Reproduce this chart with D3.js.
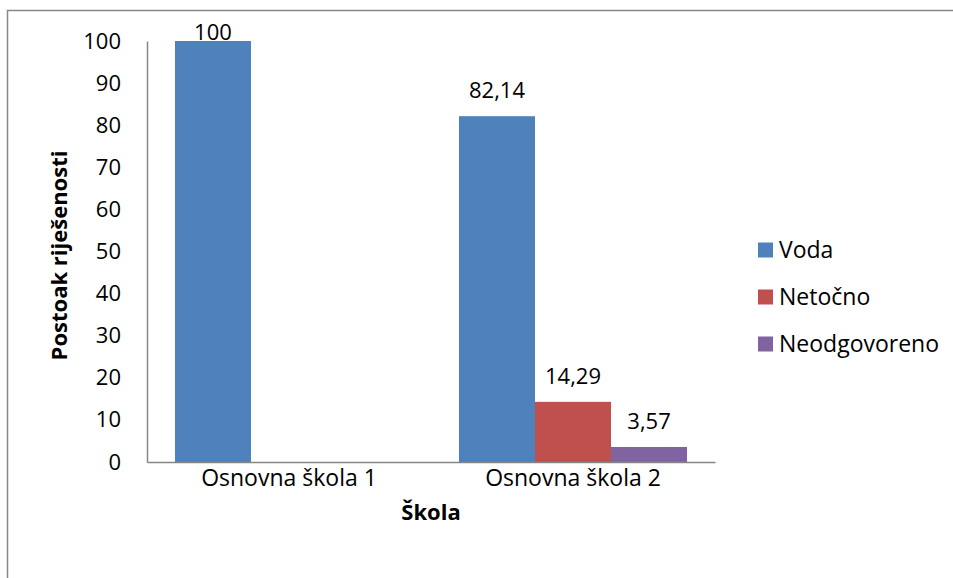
<!DOCTYPE html>
<html>
<head>
<meta charset="utf-8">
<script src="https://cdn.jsdelivr.net/npm/d3@7"></script>
<style>
  html, body { margin: 0; padding: 0; background: #fff; }
  svg { display: block; }
  text { font-family: "Open Sans", "Liberation Sans", sans-serif; fill: #000; }
</style>
</head>
<body>
<svg id="chart" width="953" height="578"></svg>
<script>
const categories = ["Osnovna škola 1", "Osnovna škola 2"];
const seriesNames = ["Voda", "Netočno", "Neodgovoreno"];
const seriesColors = ["#4F81BD", "#C0504D", "#8064A2"];
const vodaValues = [100, 82.14];
const netocnoValues = [null, 14.29];
const neodgovorenoValues = [null, 3.57];
const valueLabels = [["100", "82,14"], ["", "14,29"], ["", "3,57"]];
const yTicks = [0, 10, 20, 30, 40, 50, 60, 70, 80, 90, 100];
const yTitle = "Postoak riješenosti";
const xTitle = "Škola";

const seriesValues = [vodaValues, netocnoValues, neodgovorenoValues];

const svg = d3.select("#chart");

// outer frame
svg.append("rect").attr("x", 7.5).attr("y", 10.5).attr("width", 960).attr("height", 600)
  .attr("fill", "none").attr("stroke", "#888").attr("stroke-width", 1.5);

const plot = { left: 147, right: 715, top: 41, bottom: 462 };

const y = d3.scaleLinear().domain([0, 100]).range([plot.bottom, plot.top]);
const x0 = d3.scaleBand().domain(categories).range([plot.left, plot.right]).paddingInner(0).paddingOuter(0);
const groupW = x0.bandwidth() * 0.803;
const x1 = d3.scaleBand().domain(seriesNames).range([0, groupW]).padding(0);

const font = 22;

// y-axis
const yAxis = d3.axisLeft(y).tickValues(yTicks).tickSize(0).tickPadding(26).tickFormat(d3.format("d"));
const gy = svg.append("g").attr("transform", `translate(${plot.left},0)`).call(yAxis);
gy.select(".domain").attr("stroke", "#868686").attr("stroke-width", 1.5);
gy.selectAll("text").style("font-size", font + "px").attr("fill", "#000")
  .style("font-family", '"Open Sans", sans-serif');

// bars
categories.forEach((cat, ci) => {
  const gx = x0(cat) + (x0.bandwidth() - groupW) / 2;
  seriesNames.forEach((s, si) => {
    const v = seriesValues[si][ci];
    if (v == null) return;
    svg.append("rect")
      .attr("x", gx + x1(s))
      .attr("y", y(v))
      .attr("width", x1.bandwidth())
      .attr("height", y(0) - y(v))
      .attr("fill", seriesColors[si]);
    const lbl = valueLabels[si][ci];
    if (lbl) {
      const by = Math.max(y(v) - 18, plot.top - 1);
      svg.append("text")
        .attr("x", gx + x1(s) + x1.bandwidth() / 2)
        .attr("y", by)
        .attr("text-anchor", "middle")
        .style("font-size", font + "px")
        .text(lbl);
    }
  });
});

// x-axis
const xAxis = d3.axisBottom(x0).tickSize(0).tickPadding(8);
const gx = svg.append("g").attr("transform", `translate(0,${plot.bottom})`).call(xAxis);
gx.select(".domain").attr("stroke", "#868686").attr("stroke-width", 1.5);
gx.selectAll("text").style("font-size", "23px").attr("fill", "#000")
  .style("font-family", '"Open Sans", sans-serif');

// axis titles
svg.append("text")
  .attr("transform", `translate(67,${(plot.top + plot.bottom) / 2 + 4}) rotate(-90)`)
  .attr("text-anchor", "middle")
  .style("font-size", font + "px").style("font-weight", "bold")
  .text(yTitle);
svg.append("text")
  .attr("x", (plot.left + plot.right) / 2).attr("y", 520)
  .attr("text-anchor", "middle")
  .style("font-size", font + "px").style("font-weight", "bold")
  .text(xTitle);

// legend
const lg = svg.append("g").attr("transform", "translate(758,250)");
seriesNames.forEach((s, i) => {
  const row = lg.append("g").attr("transform", `translate(0,${i * 47})`);
  row.append("rect").attr("x", 0).attr("y", -7.5).attr("width", 15).attr("height", 15).attr("fill", seriesColors[i]);
  row.append("text").attr("x", 21).attr("y", 8).style("font-size", "23px").text(s);
});
</script>
</body>
</html>
